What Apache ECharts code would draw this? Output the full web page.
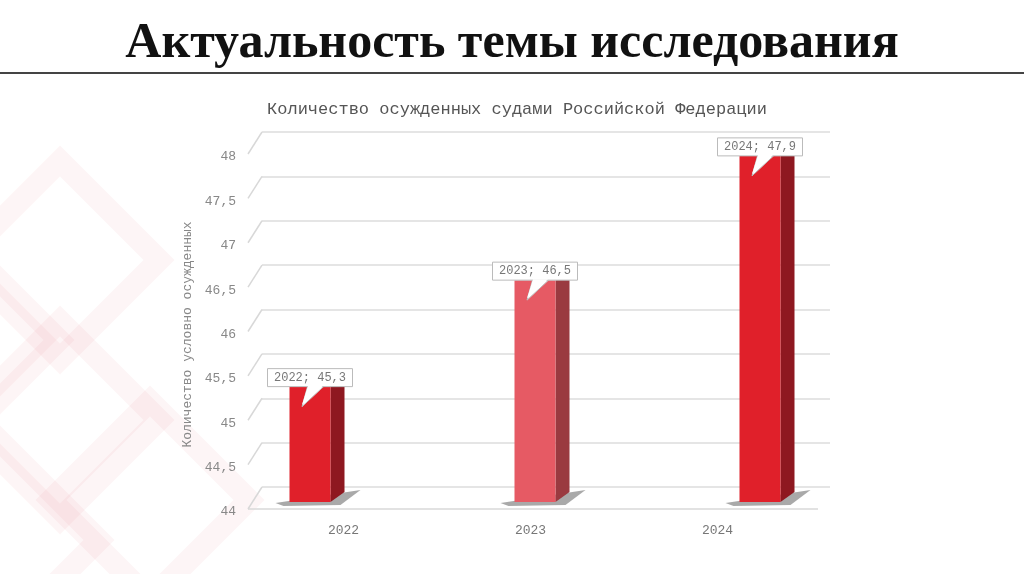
<!DOCTYPE html>
<html><head><meta charset="utf-8">
<script src="https://cdn.jsdelivr.net/npm/echarts@6/dist/echarts.min.js"></script>
<style>html,body{margin:0;background:#fff}#c{width:1024px;height:574px}</style>
</head><body><div id="c"></div>
<script>
const years = ["2022", "2023", "2024"];
const values = [45.3, 46.5, 47.9];
const labels = ["2022; 45,3", "2023; 46,5", "2024; 47,9"];
const yTicks = [44, 44.5, 45, 45.5, 46, 46.5, 47, 47.5, 48];

const mono = "'Liberation Mono', 'DejaVu Sans Mono', monospace";
const frontColors = ["#e0202a", "#e65a64", "#e0202a"];
const sideColors = ["#8e1820", "#9a3a40", "#8e1820"];

const chart = echarts.init(document.getElementById("c"));

// faint watermark diamonds on the left
let deco = [];
[[60, 260], [60, 420], [-40, 340], [150, 500], [0, 540]].forEach(([x, y]) => {
  deco.push({
    type: "rect", x: x, y: y, rotation: Math.PI / 4, z: -10,
    shape: { x: -70, y: -70, width: 140, height: 140 },
    style: { fill: "none", stroke: "rgba(230,120,130,0.07)", lineWidth: 22 },
  });
});

const option = {
  backgroundColor: "#fff",
  title: [
    {
      text: "Актуальность темы исследования", left: "center", top: 14,
      textStyle: { fontFamily: "'Liberation Serif', serif", fontWeight: "bold", fontSize: 50, color: "#111" },
    },
    {
      text: "Количество осужденных судами Российской Федерации", left: 512, textAlign: "center", top: 96,
      textStyle: { fontFamily: mono, fontWeight: "normal", fontSize: 17, color: "#555" },
    },
  ],
  graphic: deco.concat([
    { type: "line", shape: { x1: 0, y1: 73, x2: 1024, y2: 73 }, style: { stroke: "#444", lineWidth: 2 } },
  ]),
  grid: [
    { left: 262, right: 194, top: 132, bottom: 87 },   // back wall
    { left: 250, right: 213, top: 157, bottom: 62 },   // front labels
  ],
  xAxis: [
    { gridIndex: 0, type: "category", data: years, show: false },
    {
      gridIndex: 1, type: "category", data: years,
      axisLine: { show: false }, axisTick: { show: false },
      axisLabel: { fontFamily: mono, color: "#777", fontSize: 13, margin: 12 },
    },
  ],
  yAxis: [
    {
      gridIndex: 0, type: "value", min: 44, max: 48, interval: 0.5,
      axisLabel: { show: false }, axisLine: { show: false }, axisTick: { show: false },
      splitLine: { lineStyle: { color: "#dcdcdc", width: 1.5 } },
    },
    {
      gridIndex: 1, type: "value", min: 44, max: 48, interval: 0.5,
      axisLine: { show: false }, axisTick: { show: false }, splitLine: { show: false },
      axisLabel: {
        fontFamily: mono, color: "#888", fontSize: 13, margin: 14,
        formatter: (v) => String(v).replace(".", ","),
      },
      name: "Количество условно осужденных", nameLocation: "middle", nameGap: 50,
      nameTextStyle: { fontFamily: mono, color: "#888", fontSize: 13 },
    },
  ],
  series: [
    {
      // slanted depth lines from the wall to the front labels
      type: "custom", xAxisIndex: 0, yAxisIndex: 0, silent: true, clip: false,
      data: yTicks.map((v) => [0, v]),
      renderItem: (params, api) => {
        const p = api.coord([0, api.value(1)]);
        const x0 = params.coordSys.x;
        return {
          type: "line",
          shape: { x1: x0, y1: p[1], x2: x0 - 14, y2: p[1] + 22 },
          style: { stroke: "#d8d8d8", lineWidth: 1.5 },
        };
      },
    },
    {
      // floor front edge
      type: "custom", xAxisIndex: 0, yAxisIndex: 0, silent: true, clip: false,
      data: [[0, 44]],
      renderItem: (params, api) => {
        const p = api.coord([0, 44]);
        const x0 = params.coordSys.x, w = params.coordSys.width;
        return {
          type: "line",
          shape: { x1: x0 - 14, y1: p[1] + 22, x2: x0 + w - 12, y2: p[1] + 22 },
          style: { stroke: "#d8d8d8", lineWidth: 1.5 },
        };
      },
    },
    {
      // 3D bars
      type: "custom", xAxisIndex: 0, yAxisIndex: 0, clip: false,
      data: values.map((v, i) => [i, v]),
      renderItem: (params, api) => {
        const i = api.value(0);
        const top = api.coord([0, api.value(1)])[1] + 15;
        const base = api.coord([0, 44])[1] + 15;
        const cx = 310 + i * 225;
        const w = 41, d = 14;
        const l = cx - w / 2, r = cx + w / 2;
        return {
          type: "group",
          children: [
            { type: "polygon", shape: { points: [[l - 14, base + 1], [r + 30, base - 12], [r + 10, base + 3], [l - 6, base + 4]] },
              style: { fill: "rgba(40,40,40,0.4)" } },
            { type: "polygon", shape: { points: [[r, top], [r + d, top - 3], [r + d, base - 10], [r, base]] },
              style: { fill: sideColors[i] } },
            { type: "rect", shape: { x: l, y: top, width: w, height: base - top }, style: { fill: frontColors[i] } },
            { type: "polygon", shape: { points: [[l + 18, top], [l + 34, top], [cx - 8, top + 20]] },
              style: { fill: "#fff", stroke: "#bbb" } },
            { type: "rect", shape: { x: l - 22, y: top - 18, width: 85, height: 18 },
              style: { fill: "#fff", stroke: "#bbb", lineWidth: 1 } },
            { type: "polygon", shape: { points: [[l + 18.5, top - 1], [l + 33.5, top - 1], [cx - 8, top + 18]] },
              style: { fill: "#fff" } },
            { type: "text", x: l + 20.5, y: top - 9,
              style: { text: labels[i], fontFamily: mono, fontSize: 12, fill: "#777", align: "center", verticalAlign: "middle" } },
          ],
        };
      },
    },
    { type: "bar", xAxisIndex: 1, yAxisIndex: 1, data: [], silent: true },
  ],
};
chart.setOption(option);
</script>
</body></html>
